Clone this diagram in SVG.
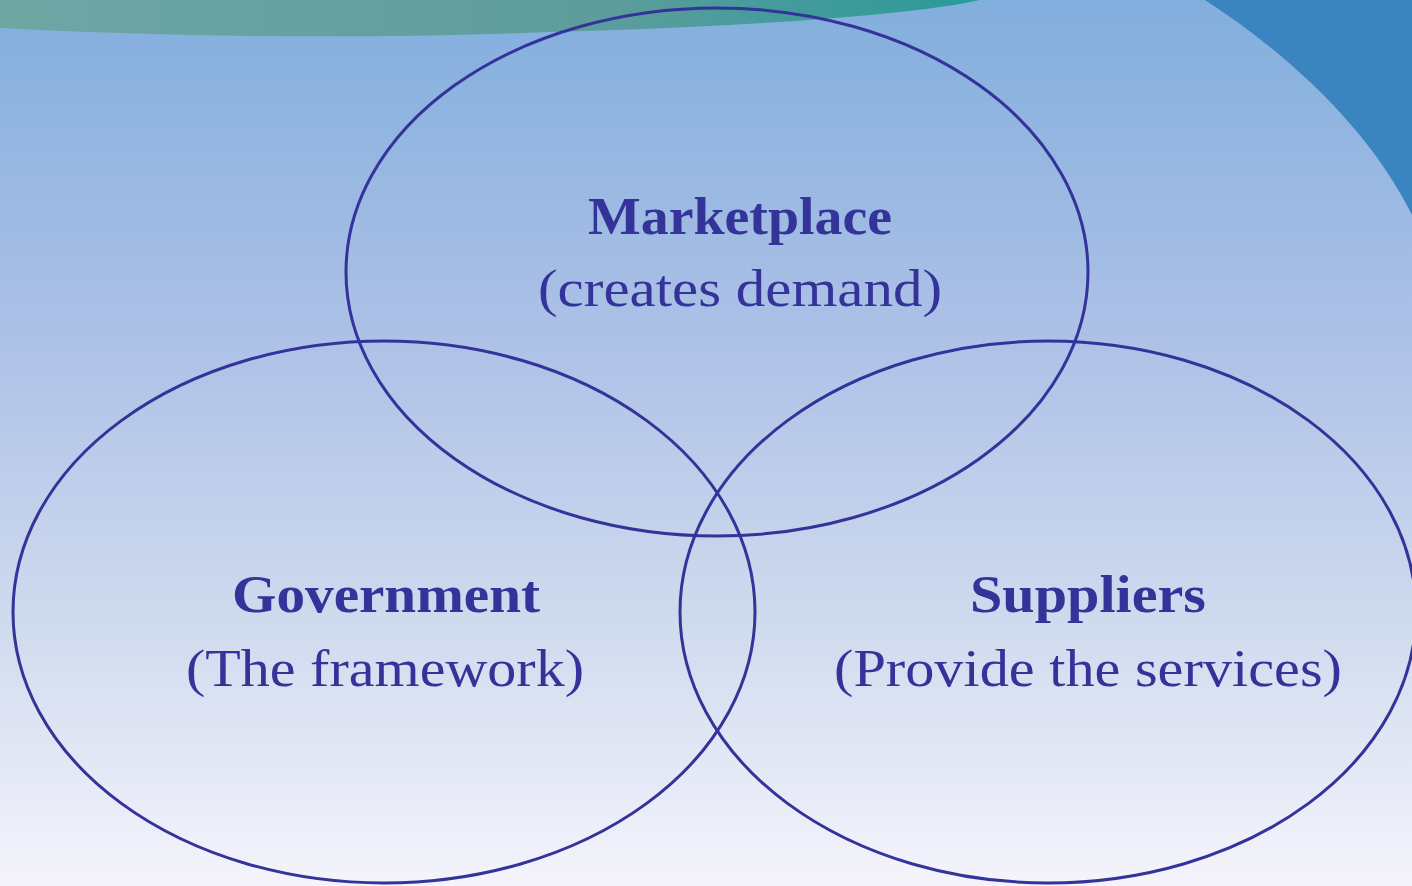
<svg xmlns="http://www.w3.org/2000/svg" width="1412" height="886" viewBox="0 0 1412 886">
<defs>
<linearGradient id="bg" x1="0" y1="0" x2="0" y2="1">
<stop offset="0" stop-color="#82aedd"/>
<stop offset="0.38" stop-color="#adc1e7"/>
<stop offset="0.7" stop-color="#cfdaee"/>
<stop offset="1" stop-color="#f5f4fc"/>
</linearGradient>
<linearGradient id="teal" x1="0" y1="0" x2="1" y2="0">
<stop offset="0" stop-color="#6ea6a4"/>
<stop offset="0.6" stop-color="#5e9d9c"/>
<stop offset="1" stop-color="#2a9a9a"/>
</linearGradient>
<style>
.ring{fill:none;stroke:#333399;stroke-width:3}
.t{font-family:"Liberation Serif","DejaVu Serif",serif;fill:#333399;text-anchor:middle;font-size:52px}
.b{font-weight:bold}
</style>
</defs>
<rect width="1412" height="886" fill="url(#bg)"/>
<path d="M0,0 L980,0 C900,18 700,28 550,32 C350,40 150,36 0,28 Z" fill="url(#teal)"/>
<path d="M1205,0 C1290,55 1370,130 1412,215 L1412,0 Z" fill="#3a84c0"/>
<g id="marketplace">
<ellipse class="ring" cx="717" cy="272" rx="371" ry="264"/>
<text class="t b" x="740" y="234" textLength="304" lengthAdjust="spacingAndGlyphs">Marketplace</text>
<text class="t" x="740" y="306" textLength="404" lengthAdjust="spacingAndGlyphs">(creates demand)</text>
</g>
<g id="government">
<ellipse class="ring" cx="384" cy="612" rx="371" ry="271"/>
<text class="t b" x="386" y="612" textLength="308" lengthAdjust="spacingAndGlyphs">Government</text>
<text class="t" x="385" y="686" textLength="398" lengthAdjust="spacingAndGlyphs">(The framework)</text>
</g>
<g id="suppliers">
<ellipse class="ring" cx="1048" cy="612" rx="368" ry="271"/>
<text class="t b" x="1088" y="612" textLength="236" lengthAdjust="spacingAndGlyphs">Suppliers</text>
<text class="t" x="1088" y="686" textLength="508" lengthAdjust="spacingAndGlyphs">(Provide the services)</text>
</g>
<g id="connectors"/>
</svg>
